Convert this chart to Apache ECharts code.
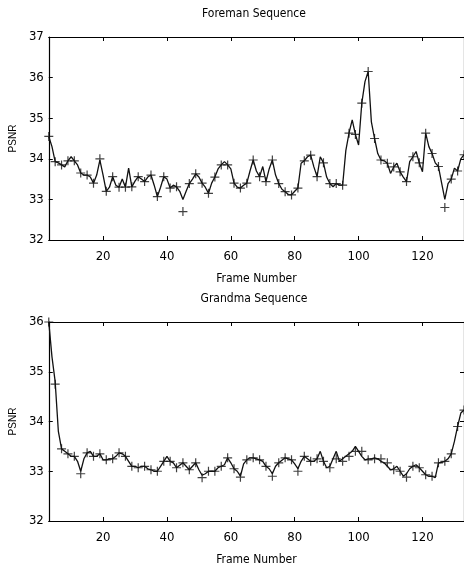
<!DOCTYPE html>
<html><head><meta charset="utf-8">
<script src="https://cdn.jsdelivr.net/npm/echarts@6/dist/echarts.min.js"></script>
<style>html,body{margin:0;padding:0;background:#fff}#c{width:464px;height:575px}</style>
</head><body><div id="c"></div>
<script>
// Frames 3..133
const firstFrame = 3;
const foremanLine = [34.55,34.3,33.93,33.9,33.85,33.8,33.95,34.05,33.95,33.85,
33.65,33.6,33.6,33.55,33.4,33.6,33.97,33.6,33.2,33.3,
33.56,33.35,33.3,33.5,33.3,33.77,33.31,33.45,33.56,33.5,
33.44,33.55,33.6,33.35,33.07,33.3,33.56,33.5,33.28,33.35,
33.31,33.2,33.0,33.2,33.39,33.5,33.63,33.55,33.4,33.3,
33.15,33.4,33.55,33.75,33.85,33.93,33.85,33.75,33.4,33.3,
33.28,33.35,33.4,33.7,33.97,33.7,33.56,33.81,33.44,33.75,
33.97,33.6,33.39,33.25,33.19,33.12,33.11,33.2,33.28,33.89,
33.95,34.05,34.09,33.8,33.56,34.05,33.9,33.55,33.39,33.31,
33.39,33.35,33.35,34.2,34.63,34.96,34.6,34.34,35.37,35.9,
36.15,34.91,34.5,34.13,33.97,33.95,33.89,33.64,33.8,33.89,
33.68,33.55,33.44,33.93,34.05,34.18,33.9,33.68,34.63,34.3,
34.13,33.9,33.81,33.4,33.0,33.39,33.5,33.77,33.7,34.0,34.1];
// '+' marks at odd frames 3,5,...,133
const foremanMarks = [34.55,33.93,33.85,33.95,33.95,33.65,33.6,33.4,34.0,33.2,
33.56,33.3,33.3,33.31,33.56,33.44,33.6,33.07,33.56,33.28,
33.31,32.7,33.39,33.63,33.4,33.15,33.55,33.85,33.85,33.4,
33.28,33.4,33.97,33.56,33.44,33.97,33.39,33.19,33.11,33.28,
33.95,34.09,33.56,33.9,33.39,33.39,33.35,34.63,34.6,35.37,
36.15,34.5,33.97,33.89,33.8,33.68,33.44,34.05,33.9,34.63,
34.13,33.81,32.8,33.5,33.7,34.1];
const grandmaLine = [36.0,35.3,34.8,33.8,33.45,33.4,33.35,33.3,33.3,33.2,
33.0,33.25,33.37,33.4,33.3,33.3,33.35,33.23,33.23,33.25,
33.25,33.3,33.37,33.35,33.3,33.2,33.1,33.1,33.07,33.1,
33.1,33.05,33.03,33.0,33.0,33.1,33.2,33.3,33.2,33.17,
33.07,33.12,33.17,33.1,33.03,33.1,33.17,33.03,32.92,32.95,
33.0,33.0,33.0,33.07,33.1,33.13,33.27,33.17,33.05,33.0,
32.9,33.15,33.23,33.27,33.27,33.25,33.23,33.2,33.1,33.05,
32.95,33.1,33.17,33.22,33.27,33.25,33.23,33.15,33.05,33.2,
33.3,33.25,33.2,33.2,33.25,33.4,33.2,33.07,33.1,33.25,
33.4,33.2,33.25,33.3,33.35,33.4,33.5,33.4,33.3,33.23,
33.25,33.25,33.27,33.25,33.2,33.17,33.1,33.03,33.05,33.1,
33.0,32.9,32.95,33.05,33.1,33.13,33.07,33.0,32.93,32.9,
32.9,32.87,33.17,33.18,33.2,33.25,33.35,33.6,33.9,34.17,34.23];
const grandmaMarks = [36.0,34.75,33.45,33.35,33.3,32.95,33.37,33.3,33.35,33.23,
33.25,33.37,33.3,33.1,33.07,33.1,33.03,33.0,33.2,33.2,
33.07,33.17,33.03,33.17,32.87,33.0,33.0,33.1,33.27,33.05,
32.88,33.23,33.27,33.23,33.1,32.9,33.17,33.27,33.23,33.0,
33.3,33.2,33.25,33.2,33.07,33.25,33.2,33.3,33.4,33.4,
33.23,33.25,33.25,33.17,33.03,33.0,32.88,33.1,33.07,32.93,
32.9,33.17,33.2,33.35,33.9,34.23];
const xTicks = [20,40,60,80,100,120];
const foremanY = [32,33,34,35,36,37];
const grandmaY = [32,33,34,35,36];

function pairs(vals, step){ return vals.map((v,i)=>[firstFrame+i*step, v]); }

const narrow = "'DejaVu Sans Condensed','Liberation Sans Narrow','Arial Narrow',sans-serif";
const plus = 'path://M0,-5L0,5M-5,0L5,0';

function xAx(gi, pos){
  const bottom = pos==='bottom';
  return {type:'value', gridIndex:gi, position:pos, min:3, max:133,
    interval:20, axisLine:{show:true,onZero:false,lineStyle:{color:'#000',width:1.2}},
    axisTick:{show:true,inside:true,length:4,lineStyle:{color:'#000'},customValues:xTicks},
    axisLabel:{show:bottom,color:'#000',fontFamily:narrow,fontSize:13,margin:10,customValues:xTicks},
    splitLine:{show:false},
    name: bottom ? 'Frame Number' : '', nameLocation:'middle', nameGap:33,
    nameTextStyle:{color:'#000',fontFamily:narrow,fontSize:12}};
}
function yAx(gi, pos, max, ticks){
  const left = pos==='left';
  return {type:'value', gridIndex:gi, position:pos, min:32, max:max, interval:1,
    axisLine:{show:true,onZero:false,lineStyle:{color:'#000',width:1.2}},
    axisTick:{show:true,inside:true,length:4,lineStyle:{color:'#000'},customValues:ticks},
    axisLabel:{show:left,color:'#000',fontFamily:narrow,fontSize:13,margin:5,customValues:ticks},
    splitLine:{show:false},
    name: left ? 'PSNR' : '', nameLocation:'middle', nameGap:26, nameRotate:90,
    nameTextStyle:{color:'#000',fontFamily:"'Liberation Sans',Arial,sans-serif",fontSize:10}};
}

const chart = echarts.init(document.getElementById('c'), null, {renderer:'canvas'});
chart.setOption({
  animation:false,
  backgroundColor:'#fff',
  graphic:[
    {type:'text', x:254, y:14, style:{text:'Foreman Sequence', fill:'#000', font:"12px "+narrow, textAlign:'center', textVerticalAlign:'middle'}},
    {type:'text', x:254, y:299, style:{text:'Grandma Sequence', fill:'#000', font:"12px "+narrow, textAlign:'center', textVerticalAlign:'middle'}}
  ],
  grid:[
    {left:45, top:37, width:419, height:203, show:false},
    {left:45, top:322, width:419, height:199, show:false}
  ],
  xAxis:[xAx(0,'bottom'), xAx(0,'top'), xAx(1,'bottom'), xAx(1,'top')],
  yAxis:[yAx(0,'left',37,foremanY), yAx(0,'right',37,foremanY), yAx(1,'left',36,grandmaY), yAx(1,'right',36,grandmaY)],
  series:[
    {type:'line', xAxisIndex:0, yAxisIndex:0, data:pairs(foremanLine,1), showSymbol:false, symbol:'none',
      lineStyle:{color:'#111',width:1.3}, silent:true, clip:true},
    {type:'scatter', xAxisIndex:0, yAxisIndex:0, data:pairs(foremanMarks,2), symbol:plus, symbolSize:9,
      itemStyle:{color:'none',borderColor:'#111',borderWidth:1.2}, silent:true, clip:false},
    {type:'line', xAxisIndex:2, yAxisIndex:2, data:pairs(grandmaLine,1), showSymbol:false, symbol:'none',
      lineStyle:{color:'#111',width:1.3}, silent:true, clip:true},
    {type:'scatter', xAxisIndex:2, yAxisIndex:2, data:pairs(grandmaMarks,2), symbol:plus, symbolSize:9,
      itemStyle:{color:'none',borderColor:'#111',borderWidth:1.2}, silent:true, clip:false}
  ]
});
</script></body></html>
